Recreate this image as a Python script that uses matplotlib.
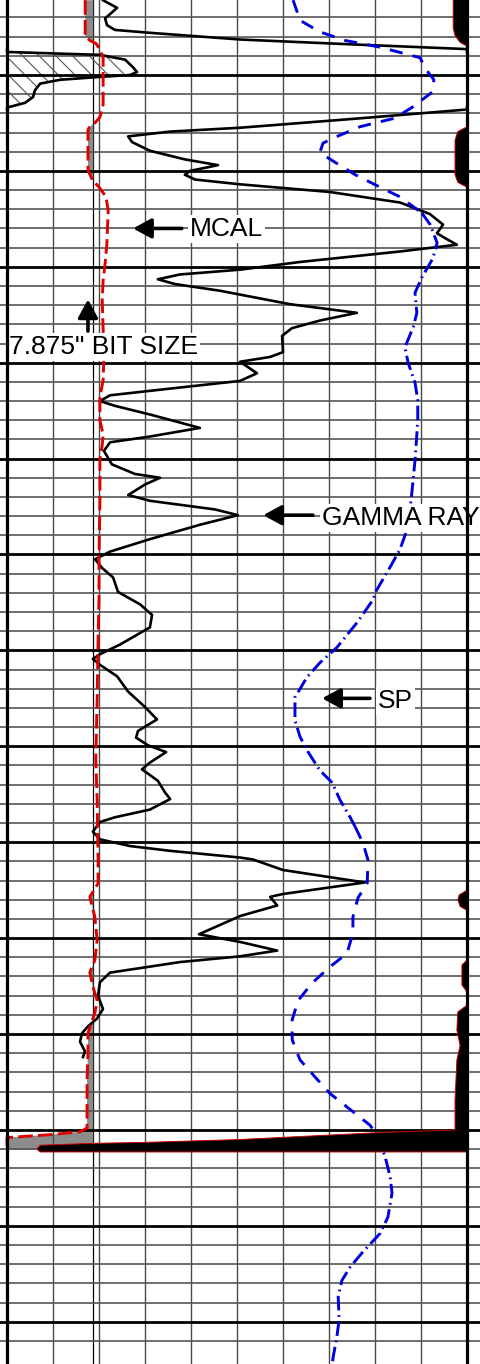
import numpy as np
import matplotlib
matplotlib.use("Agg")
import matplotlib.pyplot as plt

plt.rcParams['font.family'] = ['Liberation Sans', 'DejaVu Sans']
plt.rcParams['hatch.linewidth'] = 0.8

# depth window (ft) and track scales (10 divisions across the track)
top_depth, bottom_depth = 4992.18, 5134.41
gr_scale = (0, 150)      # API
cal_scale = (6, 16)      # inches
sp_scale = (-80, 20)     # mV
bit_size = 7.875

# gamma ray, values above 150 API wrap onto the backup scale
gr_depth = [4992.2, 4993.0, 4994.1, 4994.8, 4995.3, 4995.6, 4996.3, 4996.8, 4997.3,
            4997.6, 4997.9, 4998.4, 4999.2, 4999.7, 5000.0, 5000.2, 5000.5, 5000.9,
            5001.6, 5002.3, 5002.9, 5003.4, 5003.6, 5004.6, 5005.5, 5005.9, 5006.4,
            5007.0, 5007.9, 5008.8, 5009.4, 5010.0, 5010.4, 5010.9, 5011.4, 5012.2,
            5013.3, 5014.5, 5015.6, 5016.5, 5017.0, 5017.7, 5018.4, 5019.5, 5020.3,
            5020.8, 5021.3, 5021.8, 5022.5, 5023.9, 5024.8, 5025.6, 5026.4, 5027.2,
            5028.9, 5029.4, 5029.9, 5031.1, 5031.9, 5032.7, 5033.4, 5034.0, 5034.5,
            5035.4, 5036.8, 5037.7, 5038.3, 5039.2, 5040.6, 5041.6, 5042.0, 5042.7,
            5043.8, 5044.4, 5045.3, 5045.9, 5046.9, 5048.4, 5049.7, 5050.5, 5051.4,
            5052.4, 5053.9, 5055.2, 5056.3, 5057.6, 5059.4, 5060.4, 5060.9, 5061.5,
            5062.7, 5064.3, 5065.9, 5067.2, 5068.4, 5069.1, 5069.9, 5070.6, 5071.7,
            5072.4, 5073.6, 5074.8, 5075.5, 5076.6, 5077.4, 5077.9, 5078.9, 5079.7,
            5080.4, 5080.9, 5081.6, 5081.8, 5082.9, 5084.2, 5085.4, 5085.7, 5086.6,
            5087.7, 5089.6, 5090.4, 5091.3, 5091.9, 5092.5, 5093.6, 5094.6, 5096.0,
            5097.4, 5098.4, 5099.2, 5099.9, 5100.8, 5101.8, 5102.4]
gr_api = [31.3, 35.9, 32.0, 32.6, 35.2, 46.6, 76.0, 111.9, 150.0,
          150.0, 180.3, 188.5, 191.1, 192.4, 190.1, 180.3, 167.3, 160.8,
          159.1, 158.5, 155.9, 150.0, 150.0, 111.9, 76.0, 53.2, 39.5,
          40.8, 46.6, 58.0, 68.8, 59.7, 58.0, 61.3, 76.0, 105.3,
          128.2, 137.9, 142.2, 140.2, 142.8, 146.7, 128.2, 95.5, 76.0,
          56.4, 49.2, 54.8, 69.5, 92.3, 114.1, 102.1, 92.9, 89.7,
          90.0, 85.8, 76.0, 81.5, 76.0, 53.2, 33.6, 30.3, 35.2,
          46.6, 62.9, 46.6, 33.6, 31.6, 34.2, 41.7, 49.9, 45.0,
          39.5, 46.6, 67.8, 75.3, 62.9, 46.6, 33.6, 28.7, 31.0,
          34.6, 36.2, 43.4, 47.3, 46.6, 36.8, 30.3, 28.0, 30.3,
          35.9, 39.5, 45.0, 48.9, 42.7, 42.1, 46.0, 51.9, 46.6,
          44.0, 49.2, 51.5, 53.2, 46.6, 35.2, 30.3, 28.0, 30.3,
          40.1, 53.2, 76.0, 80.2, 90.0, 116.7, 90.0, 85.8, 88.1,
          76.0, 62.6, 76.0, 88.1, 76.0, 56.4, 33.6, 30.3, 29.7,
          31.3, 29.3, 26.4, 24.5, 23.8, 25.4, 24.8]

# micro caliper
mcal_depth = [4992.2, 4995.9, 4996.4, 4996.7, 4997.3, 4998.2, 5001.0, 5003.1, 5004.4,
              5005.0, 5005.4, 5005.7, 5009.9, 5010.9, 5011.8, 5012.7, 5014.1, 5017.7,
              5019.8, 5021.4, 5023.5, 5026.6, 5028.7, 5031.8, 5033.6, 5036.0, 5037.5,
              5038.6, 5040.1, 5044.3, 5050.6, 5054.7, 5058.9, 5065.1, 5071.4, 5075.6,
              5081.9, 5084.3, 5085.7, 5087.8, 5090.2, 5092.3, 5093.6, 5095.1, 5096.5,
              5097.8, 5099.9, 5102.0, 5104.8, 5109.8, 5110.2, 5110.5, 5110.8, 5112.1]
mcal_in = [7.70, 7.70, 7.80, 7.93, 8.02, 8.09, 8.09, 8.09, 8.02,
           7.91, 7.80, 7.76, 7.76, 7.85, 8.02, 8.15, 8.20, 8.17,
           8.13, 8.09, 8.07, 8.09, 8.11, 8.09, 8.02, 8.02, 8.09,
           8.07, 8.02, 8.02, 8.00, 8.00, 7.98, 7.96, 7.93, 7.96,
           7.98, 7.98, 7.80, 7.91, 7.96, 7.91, 7.80, 7.87, 7.96,
           7.91, 7.76, 7.76, 7.74, 7.74, 7.59, 6.93, 6.00, 6.00]

# spontaneous potential
sp_depth = [4992.2, 4994.3, 4995.5, 4996.4, 4997.1, 4998.2, 4999.3, 5000.5, 5001.8,
            5003.3, 5004.5, 5005.4, 5006.5, 5007.1, 5008.1, 5009.1, 5010.4, 5011.7,
            5012.7, 5014.4, 5015.6, 5017.5, 5019.1, 5021.1, 5022.7, 5024.8, 5026.3,
            5028.4, 5030.0, 5032.1, 5033.9, 5036.0, 5040.2, 5043.6, 5047.1, 5049.5,
            5051.3, 5054.0, 5054.7, 5057.1, 5059.7, 5061.3, 5062.8, 5064.9, 5067.3,
            5069.0, 5070.4, 5072.5, 5073.8, 5075.6, 5077.4, 5078.4, 5080.1, 5081.9,
            5084.3, 5085.8, 5087.8, 5089.5, 5091.6, 5093.0, 5094.7, 5096.5, 5098.5,
            5100.6, 5102.7, 5104.5, 5106.2, 5108.1, 5109.5, 5110.5, 5112.8, 5114.9,
            5116.6, 5119.1, 5120.8, 5122.7, 5124.3, 5125.7, 5127.4, 5129.8, 5131.6,
            5133.7, 5134.4]
sp_mv = [-17.8, -16.3, -12.0, -6.5, 1.1, 9.8, 10.9, 12.8, 12.4,
         8.3, 4.3, -3.3, -8.7, -11.3, -12.0, -8.7, -4.3, 1.1,
         5.4, 10.2, 12.0, 13.5, 12.6, 10.2, 8.7, 9.1, 8.3,
         6.5, 7.2, 8.7, 9.3, 9.3, 8.7, 8.0, 7.2, 5.4,
         3.3, 0.0, -0.4, -3.9, -8.3, -12.0, -14.8, -17.4, -17.4,
         -16.3, -14.8, -12.0, -9.3, -7.6, -5.4, -4.3, -2.6, -1.5,
         -1.7, -3.7, -4.8, -4.8, -6.1, -9.8, -13.7, -16.7, -18.0,
         -18.0, -16.3, -13.0, -9.8, -4.8, -1.1, 0.4, 2.2, 3.3,
         3.7, 2.8, 1.1, -2.6, -5.4, -7.2, -8.0, -7.8, -8.3,
         -9.1, -9.3]
# depth ranges where the SP trace is drawn dash-dot instead of dashed
sp_dashdot_ranges = [(5014.4, 5078.4), (5110.5, 5134.4)]

# black shading against the right edge of the track (track divisions, depth)
edge_shading = [
    ([9.70, 9.70, 9.74, 9.85, 10.0, 10.0], [4991.0, 4995.1, 4995.9, 4996.6, 4997.0, 4991.0]),
    ([10.0, 9.80, 9.74, 9.74, 9.80, 10.0], [5005.4, 5005.9, 5006.8, 5010.4, 5011.2, 5011.7]),
    ([10.0, 9.83, 9.80, 9.85, 10.0], [5085.0, 5085.5, 5086.0, 5086.7, 5087.1]),
    ([10.0, 9.89, 9.89, 10.0], [5092.3, 5092.8, 5094.9, 5095.6]),
    ([10.0, 9.80, 9.78, 9.85, 9.78, 9.76, 9.74, 9.74, 8.0, 5.07, 3.0, 1.87, 0.72, 0.65, 0.72, 10.0],
     [5097.0, 5097.7, 5099.6, 5101.2, 5102.7, 5104.8, 5106.9, 5110.0, 5110.3, 5111.0,
      5111.3, 5111.4, 5111.6, 5112.0, 5112.3, 5112.3]),
]


def to_div(v, scale):
    lo, hi = scale
    return (np.asarray(v, dtype=float) - lo) / (hi - lo) * 10


gr = np.array(gr_api)
gr_depth = np.array(gr_depth)
gr_main = np.where(gr <= 150, gr, np.nan)
gr_backup = np.where(gr >= 150, gr - 150, np.nan)

mcal_d = to_div(mcal_in, cal_scale)
bit_d = to_div(bit_size, cal_scale)

# split SP into dashed / dash-dot pieces, sharing the end points
sp_d = to_div(sp_mv, sp_scale)
sp_z = np.array(sp_depth)
in_dd = np.zeros(len(sp_z), dtype=bool)
for a, b in sp_dashdot_ranges:
    in_dd |= (sp_z >= a) & (sp_z <= b)
first_last = in_dd.copy()
first_last[1:-1] = in_dd[1:-1] & ~(in_dd[:-2] & in_dd[2:])
sp_dashdot = np.where(in_dd, sp_d, np.nan)
sp_dashed = np.where(~in_dd | first_last, sp_d, np.nan)

fig = plt.figure(figsize=(4.8, 13.64), dpi=100)
ax = fig.add_axes([0, 0, 1, 1])

# grid
ax.set_xticks(np.arange(0, 11, 1))
ax.set_yticks(np.arange(5000, 5131, 10))
ax.set_yticks(np.arange(4994, 5134, 2), minor=True)
ax.set_xlim(-7 / 46, 473 / 46)
ax.set_ylim(bottom_depth, top_depth)
ax.grid(axis='x', which='major', color='#4a4a4a', lw=1.0, zorder=0.5)
ax.grid(axis='y', which='major', color='black', lw=2.0, zorder=0.5)
ax.grid(axis='y', which='minor', color='#555555', lw=1.2, zorder=0.5)
ax.tick_params(which='both', length=0, labelleft=False, labelbottom=False)
ax.axvline(bit_d, color='black', lw=0.9, zorder=0.6)

for s in ['top', 'bottom']:
    ax.spines[s].set_visible(False)
ax.spines['left'].set_position(('data', 0))
ax.spines['right'].set_position(('data', 10))
for s in ['left', 'right']:
    ax.spines[s].set_linewidth(2.3)
    ax.spines[s].set_zorder(8)

# caliper smaller than bit size
ax.fill_betweenx(mcal_depth, mcal_d, bit_d, where=mcal_d < bit_d, interpolate=True,
                 color='#8c8c8c', lw=0, zorder=1)

# gamma ray backup (wrapped) with hatching
ax.fill_betweenx(gr_depth, 0, to_div(gr_backup, gr_scale), where=gr >= 150,
                 facecolor='none', edgecolor='#555555', hatch='\\\\', lw=0, zorder=1)
ax.plot(to_div(gr_backup, gr_scale), gr_depth, color='black', lw=1.9, zorder=3)
ax.plot(to_div(gr_main, gr_scale), gr_depth, color='black', lw=1.9, zorder=3,
        solid_joinstyle='round')

ax.plot(mcal_d, mcal_depth, color='#e00000', lw=2.1, dashes=(5, 1.8), zorder=3)
ax.plot(sp_dashed, sp_z, color='#0000dd', lw=2.1, dashes=(4.5, 3.5), zorder=3)
ax.plot(sp_dashdot, sp_z, color='#0000dd', lw=2.1, dashes=(5, 1.6, 0.6, 1.6), zorder=3)

for xs, ds in edge_shading:
    ax.fill(xs, ds, facecolor='black', edgecolor='#cc0000', lw=0.7, zorder=4)

# labels with arrows
arrow = dict(arrowstyle='-|>,head_length=0.55,head_width=0.3', color='black',
             lw=2.6, shrinkA=0, shrinkB=0, mutation_scale=20)
box = dict(facecolor='white', edgecolor='none', pad=1.5)
labels = [
    ('MCAL', (2.74, 5016.0), (3.80, 5016.0), (3.98, 5015.8)),
    ('GAMMA RAY', (5.57, 5045.9), (6.65, 5045.9), (6.85, 5045.9)),
    ('SP', (6.85, 5065.0), (7.89, 5065.0), (8.07, 5065.0)),
]
for txt, tip, tail, pos in labels:
    ax.annotate('', xy=tip, xytext=tail, arrowprops=arrow, zorder=6)
    ax.text(pos[0], pos[1] + 0.27, txt, fontsize=19, ha='left', va='center',
            bbox=box, zorder=7)

ax.annotate('', xy=(1.76, 5023.4), xytext=(1.76, 5026.7), arrowprops=arrow, zorder=6)
ax.text(0.04, 5028.4, '7.875" BIT SIZE', fontsize=19, ha='left', va='center',
        bbox=box, zorder=7)

fig.savefig('out.png', dpi=100)
